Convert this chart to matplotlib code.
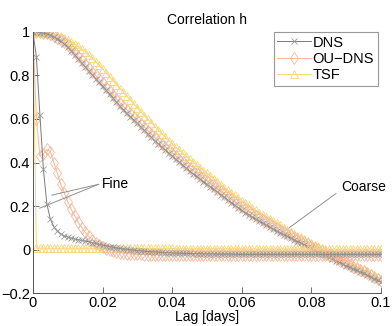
import numpy as np
import matplotlib
matplotlib.use("Agg")
import matplotlib.pyplot as plt

plt.rcParams.update({"font.family": ["Liberation Sans", "DejaVu Sans"], "font.size": 10})

# lag axis, 0 .. 0.1 days in 0.001 steps
lag = np.arange(101) / 1000.0

coarse_dns = [
    1.000, 0.999, 0.997, 0.994, 0.990, 0.985, 0.977, 0.968, 0.957, 0.944, 0.930,
    0.913, 0.895, 0.877, 0.858, 0.840, 0.822, 0.804, 0.786, 0.768, 0.750,
    0.732, 0.714, 0.696, 0.678, 0.660, 0.643, 0.627, 0.611, 0.595, 0.580,
    0.564, 0.548, 0.532, 0.516, 0.500, 0.486, 0.472, 0.458, 0.444, 0.430,
    0.416, 0.402, 0.388, 0.374, 0.360, 0.348, 0.336, 0.324, 0.312, 0.300,
    0.288, 0.276, 0.264, 0.252, 0.240, 0.228, 0.216, 0.204, 0.192, 0.180,
    0.170, 0.160, 0.150, 0.140, 0.130, 0.121, 0.112, 0.103, 0.094, 0.085,
    0.077, 0.069, 0.061, 0.053, 0.045, 0.037, 0.029, 0.021, 0.013, 0.005,
    -0.003, -0.011, -0.019, -0.027, -0.035, -0.043, -0.051, -0.059, -0.067, -0.075,
    -0.082, -0.089, -0.096, -0.103, -0.110, -0.118, -0.126, -0.134, -0.142, -0.150]
coarse_ou = [
    1.000, 0.999, 0.998, 0.996, 0.993, 0.989, 0.982, 0.974, 0.964, 0.952, 0.939,
    0.923, 0.906, 0.889, 0.871, 0.853, 0.835, 0.818, 0.800, 0.782, 0.764,
    0.746, 0.728, 0.710, 0.692, 0.674, 0.658, 0.642, 0.626, 0.610, 0.595,
    0.579, 0.563, 0.547, 0.531, 0.515, 0.501, 0.487, 0.473, 0.459, 0.445,
    0.431, 0.417, 0.403, 0.389, 0.375, 0.363, 0.351, 0.339, 0.327, 0.315,
    0.303, 0.291, 0.279, 0.267, 0.255, 0.243, 0.231, 0.219, 0.207, 0.195,
    0.185, 0.175, 0.164, 0.154, 0.144, 0.135, 0.125, 0.116, 0.107, 0.098,
    0.090, 0.081, 0.073, 0.065, 0.057, 0.049, 0.041, 0.033, 0.025, 0.017,
    0.009, 0.001, -0.007, -0.015, -0.023, -0.031, -0.039, -0.047, -0.055, -0.063,
    -0.071, -0.078, -0.086, -0.093, -0.100, -0.109, -0.118, -0.127, -0.136, -0.145]
coarse_tsf = [
    1.000, 1.000, 0.999, 0.998, 0.997, 0.995, 0.991, 0.986, 0.980, 0.973, 0.965,
    0.955, 0.945, 0.934, 0.922, 0.910, 0.895, 0.879, 0.863, 0.847, 0.830,
    0.812, 0.794, 0.776, 0.758, 0.740, 0.722, 0.704, 0.686, 0.668, 0.650,
    0.633, 0.616, 0.599, 0.582, 0.565, 0.549, 0.533, 0.517, 0.501, 0.485,
    0.471, 0.457, 0.443, 0.429, 0.415, 0.402, 0.389, 0.376, 0.363, 0.350,
    0.337, 0.324, 0.311, 0.298, 0.285, 0.273, 0.261, 0.249, 0.237, 0.225,
    0.214, 0.203, 0.192, 0.181, 0.170, 0.160, 0.150, 0.140, 0.130, 0.120,
    0.111, 0.101, 0.092, 0.082, 0.073, 0.064, 0.056, 0.047, 0.039, 0.030,
    0.022, 0.013, 0.005, -0.004, -0.012, -0.020, -0.028, -0.037, -0.045, -0.053,
    -0.061, -0.069, -0.078, -0.086, -0.094, -0.102, -0.110, -0.119, -0.127, -0.135]

fine_dns = [
    1.000, 0.885, 0.620, 0.370, 0.210, 0.140, 0.105, 0.085, 0.072, 0.063, 0.057,
    0.052, 0.048, 0.045, 0.042, 0.039, 0.036, 0.032, 0.028, 0.024, 0.020,
    0.017, 0.014, 0.011, 0.008, 0.005, 0.003, 0.001, -0.001, -0.003, -0.005,
    -0.006, -0.008, -0.009, -0.010, -0.011, -0.012, -0.013, -0.014, -0.015, -0.016,
    -0.016, -0.017, -0.017, -0.018, -0.018, -0.019, -0.019, -0.019, -0.020, -0.020,
    -0.020, -0.020, -0.021, -0.021, -0.021, -0.021, -0.021, -0.022, -0.022, -0.022,
    -0.022, -0.022, -0.022, -0.022, -0.022, -0.022, -0.022, -0.022, -0.022, -0.022,
    -0.022, -0.022, -0.022, -0.022, -0.022, -0.022, -0.022, -0.022, -0.022, -0.022,
    -0.022, -0.022, -0.022, -0.022, -0.022, -0.022, -0.022, -0.022, -0.022, -0.022,
    -0.022, -0.022, -0.022, -0.022, -0.022, -0.022, -0.022, -0.022, -0.022, -0.022]
fine_ou = [
    1.000, 0.600, 0.430, 0.440, 0.460, 0.450, 0.400, 0.350, 0.300, 0.260, 0.220,
    0.185, 0.155, 0.125, 0.100, 0.080, 0.060, 0.045, 0.032, 0.020, 0.010,
    0.003, -0.003, -0.008, -0.012, -0.015, -0.017, -0.019, -0.020, -0.021, -0.022,
    -0.022, -0.023, -0.023, -0.023, -0.024, -0.024, -0.024, -0.024, -0.024, -0.025,
    -0.025, -0.025, -0.025, -0.025, -0.025, -0.025, -0.025, -0.025, -0.025, -0.025,
    -0.025, -0.025, -0.025, -0.025, -0.025, -0.025, -0.025, -0.025, -0.025, -0.025,
    -0.025, -0.025, -0.025, -0.025, -0.025, -0.025, -0.025, -0.025, -0.025, -0.025,
    -0.025, -0.025, -0.025, -0.025, -0.025, -0.025, -0.025, -0.025, -0.025, -0.025,
    -0.025, -0.025, -0.025, -0.025, -0.025, -0.025, -0.025, -0.025, -0.025, -0.025,
    -0.025, -0.025, -0.025, -0.025, -0.025, -0.025, -0.025, -0.025, -0.025, -0.025]
fine_tsf = [
    1.000, 0.006, 0.006, 0.006, 0.006, 0.006, 0.006, 0.006, 0.006, 0.006, 0.006,
    0.006, 0.006, 0.006, 0.006, 0.006, 0.006, 0.006, 0.006, 0.006, 0.006,
    0.005, 0.005, 0.005, 0.005, 0.005, 0.005, 0.005, 0.005, 0.005, 0.005,
    0.005, 0.005, 0.005, 0.005, 0.005, 0.005, 0.005, 0.005, 0.005, 0.005,
    0.004, 0.004, 0.004, 0.004, 0.004, 0.004, 0.004, 0.004, 0.004, 0.004,
    0.004, 0.004, 0.004, 0.004, 0.004, 0.004, 0.004, 0.004, 0.004, 0.004,
    0.003, 0.003, 0.003, 0.003, 0.003, 0.003, 0.003, 0.003, 0.003, 0.003,
    0.003, 0.003, 0.003, 0.003, 0.003, 0.003, 0.003, 0.003, 0.003, 0.003,
    0.002, 0.002, 0.002, 0.002, 0.002, 0.002, 0.002, 0.002, 0.002, 0.002,
    0.002, 0.002, 0.002, 0.002, 0.002, 0.002, 0.002, 0.002, 0.002, 0.002]

C_DNS = "#7a7a7a"
C_OU = "#f4b898"
C_TSF = "#f6d77c"

fig = plt.figure(figsize=(3.92, 3.26), dpi=100)
ax = fig.add_axes([0.084, 0.101, 0.888, 0.801])

kw = dict(lw=0.7, ms=6, mew=0.6)
dns_kw = dict(lw=0.7, ms=4.5, mew=0.6, mec="#9a9a9a")
ax.plot(lag, coarse_tsf, color=C_TSF, marker="^", mfc="none", **kw)
ax.plot(lag, coarse_ou, color=C_OU, marker="d", mfc="none", **kw)
ax.plot(lag, coarse_dns, color=C_DNS, marker="x", **dns_kw)
ax.plot(lag, fine_tsf, color=C_TSF, marker="^", mfc="none", **kw)
ax.plot(lag, fine_ou, color=C_OU, marker="d", mfc="none", **kw)
ax.plot(lag, fine_dns, color=C_DNS, marker="x", **dns_kw)

# legend proxies
h1, = ax.plot([], [], color=C_DNS, marker="x", label="DNS", **dns_kw)
h2, = ax.plot([], [], color=C_OU, marker="d", mfc="none", label="OU\u2212DNS", **kw)
h3, = ax.plot([], [], color=C_TSF, marker="^", mfc="none", label="TSF", **kw)
leg = ax.legend(handles=[h1, h2, h3], loc="upper right", bbox_to_anchor=(0.99, 1.0),
                fancybox=False, handlelength=2.3, handletextpad=0.1, labelspacing=0.15,
                borderpad=0.25, borderaxespad=0, fontsize=10.5)
leg.get_frame().set_edgecolor("#808080")
leg.get_frame().set_linewidth(0.8)

line_kw = dict(arrowstyle="-", color="#909090", lw=0.7, shrinkA=0, shrinkB=0)
ax.text(0.0197, 0.30, "Fine", va="center", ha="left")
ax.annotate("", xy=(0.0019, 0.19), xytext=(0.0189, 0.30), arrowprops=line_kw)
ax.annotate("", xy=(0.0054, 0.25), xytext=(0.0189, 0.30), arrowprops=line_kw)
ax.text(0.0885, 0.287, "Coarse", va="center", ha="left")
ax.annotate("", xy=(0.0736, 0.10), xytext=(0.0871, 0.258), arrowprops=line_kw)

ax.set_xlim(0, 0.1)
ax.set_ylim(-0.2, 1)
ax.set_xticks([0, 0.02, 0.04, 0.06, 0.08, 0.1])
ax.set_xticklabels(["0", "0.02", "0.04", "0.06", "0.08", "0.1"])
ax.set_yticks([-0.2, 0, 0.2, 0.4, 0.6, 0.8, 1])
ax.set_yticklabels(["\u22120.2", "0", "0.2", "0.4", "0.6", "0.8", "1"])
ax.tick_params(direction="in", length=4, width=0.6, color="#555555", labelsize=10.5, pad=2)
for s in ("top", "right"):
    ax.spines[s].set_visible(False)
for s in ("left", "bottom"):
    ax.spines[s].set_color("#555555")
    ax.spines[s].set_linewidth(0.7)
ax.set_xlabel("Lag [days]", labelpad=0)
ax.set_title("Correlation h", fontsize=10, pad=6)

fig.savefig("out.png", dpi=100)
